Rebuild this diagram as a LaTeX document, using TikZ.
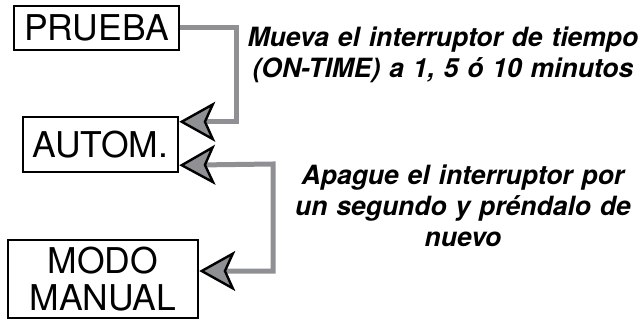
\documentclass[tikz,border=0pt]{standalone}
\usepackage{fontspec}
\setmainfont{TeX Gyre Heros}
\usetikzlibrary{arrows.meta}
\definecolor{cgray}{RGB}{143,144,147}
\tikzset{
  box/.style={draw=black, line width=2.5pt, inner sep=0pt, align=center,
    font=\fontsize{35.5}{37}\selectfont},
  conn/.style={draw=cgray, line width=5pt, line join=miter},
  barb/.tip={Stealth[length=36pt, width=40pt, inset=9pt, line width=2.4pt, color=black, fill=cgray]},
  note/.style={inner sep=0pt, text width=420pt, align=center,
    font=\fontsize{26.5}{31}\selectfont\bfseries\itshape, anchor=base}
}
\begin{document}
\begin{tikzpicture}[x=1pt,y=-1pt]
\useasboundingbox (0,0) rectangle (642,320);
\node[box, minimum width=165pt, minimum height=44pt] (prueba) at (96.5,28) {PRUEBA};
\node[box, minimum width=155pt, minimum height=55pt] (autom) at (100.5,144.5) {AUTOM.};
\node[box, minimum width=190pt, minimum height=78pt] (modo) at (103,279) {MODO\\MANUAL};

\draw[conn, -barb] (prueba.east) -- (236,28) |- ([yshift=-6pt]autom.north east);
\draw[conn, barb-barb] ([yshift=8pt]autom.south east) -- (273,164) |- ([yshift=8pt]modo.east);

\node[note] (t1) at (443,47) {Mueva el interruptor de tiempo\\(ON-TIME) a 1, 5 ó 10 minutos};
\node[note] (t2) at (463,185) {Apague el interruptor por\\un segundo y préndalo de\\nuevo};
\end{tikzpicture}
\end{document}
